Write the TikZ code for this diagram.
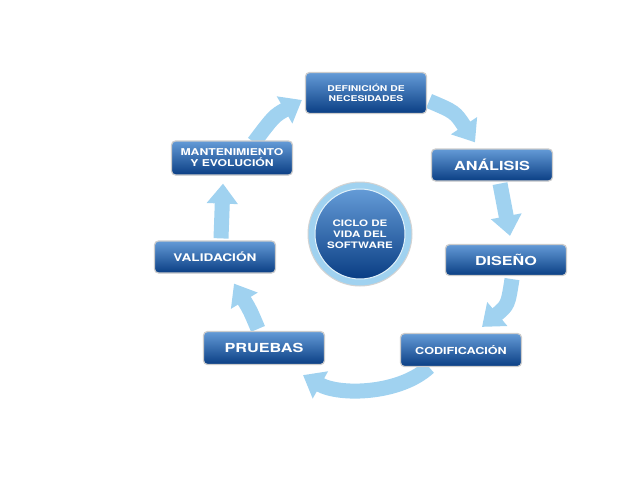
\documentclass[tikz,border=0pt]{standalone}
\usepackage{fontspec}
\newfontfamily\etapafont[FakeStretch=1.3]{TeX Gyre Heros}
\usetikzlibrary{arrows.meta,backgrounds}
\definecolor{flechaazul}{RGB}{160,210,240}
\definecolor{azulclaro}{RGB}{100,155,215}
\definecolor{azulmedio}{RGB}{28,98,180}
\definecolor{azuloscuro}{RGB}{10,62,132}
\begin{document}
\begin{tikzpicture}[x=1pt,y=-1pt,>={Triangle[width=30pt,length=20pt]},
  etapa/.style={rounded corners=4pt, draw=gray!40, line width=1.2pt,
    top color=azulclaro, middle color=azulmedio, bottom color=azuloscuro,
    text=white, align=center, minimum width=121pt, minimum height=33pt, inner sep=1pt},
  flecha/.style={draw=flechaazul, line width=15pt, ->}]
  \useasboundingbox (0,0) rectangle (638,479);
  % etapas del ciclo
  \node[etapa, minimum height=41pt, font=\etapafont\bfseries\fontsize{8}{10}\selectfont] (def) at (366,93) {DEFINICIÓN DE\\NECESIDADES};
  \node[etapa, minimum height=32pt, font=\etapafont\bfseries\fontsize{12.5}{14}\selectfont] (ana) at (492,165) {ANÁLISIS};
  \node[etapa, minimum height=31pt, font=\etapafont\bfseries\fontsize{12.4}{14}\selectfont] (dis) at (506,260) {DISEÑO};
  \node[etapa, font=\etapafont\bfseries\fontsize{9.7}{12}\selectfont] (cod) at (461,350) {CODIFICACIÓN};
  \node[etapa, font=\etapafont\bfseries\fontsize{12.5}{14}\selectfont] (pru) at (264,348) {PRUEBAS};
  \node[etapa, minimum height=32pt, font=\etapafont\bfseries\fontsize{10.5}{12}\selectfont] (val) at (215,257) {VALIDACIÓN};
  \node[etapa, minimum height=34pt, font=\etapafont\bfseries\fontsize{9.4}{11}\selectfont] (man) at (232,158) {MANTENIMIENTO\\Y EVOLUCIÓN};
  % centro
  \node[circle, minimum size=104pt, fill=flechaazul, draw=gray!35, line width=1pt] (anillo) at (360,234) {};
  \node[circle, minimum size=90pt, top color=azulclaro, bottom color=azuloscuro, draw=white!70!flechaazul, line width=1pt,
    text=white, align=center, font=\etapafont\bfseries\fontsize{8.9}{11}\selectfont] (ciclo) at (anillo) {CICLO DE\\VIDA DEL\\SOFTWARE};
  % flechas
  \begin{scope}[on background layer]
    \draw[flecha] ([shift={(22,2)}]man.north) .. controls (274,116) .. ([shift={(-3,7)}]def.west);
    \draw[flecha] ([shift={(2,8)}]def.east) .. controls (455,112) .. ([shift={(-17,-6)}]ana.north);
    \draw[flecha] ([shift={(8,2)}]ana.south) -- ([shift={(4,-8)}]dis.north);
    \draw[flecha] ([shift={(6,3)}]dis.south) .. controls (508,305) .. ([shift={(21,-6)}]cod.north);
    \draw[flecha] ([shift={(-32,0)}]cod.south) .. controls (400,394) and (340,396) .. ([shift={(39,10)}]pru.south);
    \draw[flecha] ([shift={(-6,-2)}]pru.north) .. controls (250,310) .. ([shift={(19,10)}]val.south);
    \draw[flecha] ([shift={(6,-2)}]val.north) -- ([shift={(-9,8)}]man.south);
  \end{scope}
\end{tikzpicture}
\end{document}
